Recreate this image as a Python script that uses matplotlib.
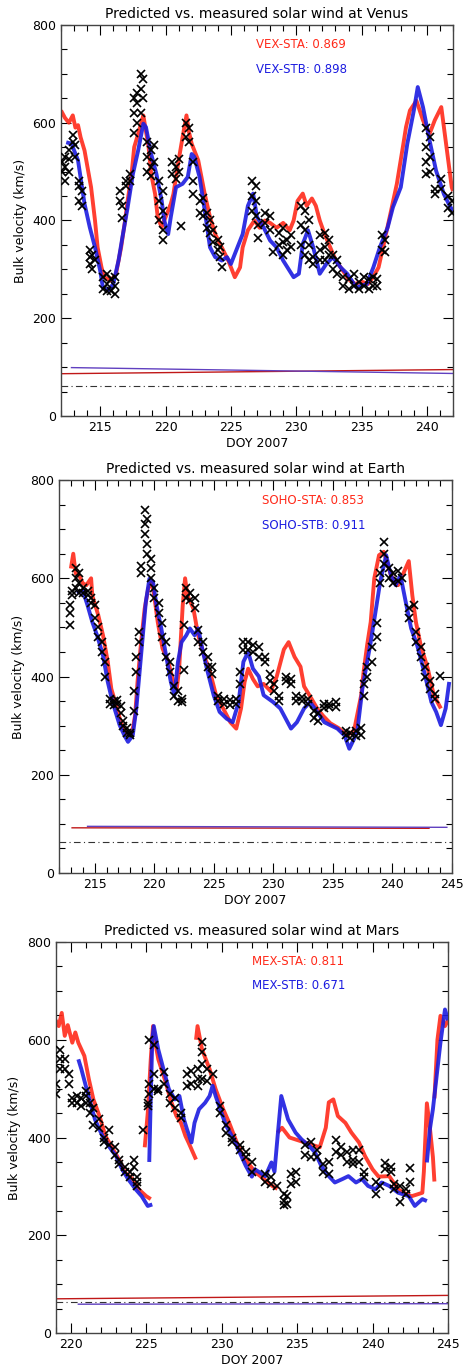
import numpy as np
import matplotlib
matplotlib.use('Agg')
import matplotlib.pyplot as plt
import matplotlib.ticker as tck

nan = np.nan

# ---------- VENUS ----------
venus_sta_doy = [212.0, 212.3, 212.6, 212.9, 213.1, 213.3, 213.5, 213.8, 214.3, 214.6,
                 214.8, 215.1, 215.3, 215.8, 216.2, 216.6, 216.9, 217.1, 217.4, 217.6,
                 217.9, 218.2, 218.3, 218.7, 218.9, 219.2, 219.4, 219.7, 219.9, 220.2,
                 220.4, 220.6, 221.0, 221.3, 221.6, 221.8, 222.0, 222.5, 223.0, 223.4,
                 223.8, 224.3, 224.8, 225.3, 225.7, 225.9, 226.3, 226.8, 227.2, 227.6,
                 228.0, 228.5, 229.0, 229.5, 229.8, 230.1, 230.5, 230.8, 231.2, 231.5,
                 231.8, 232.2, 232.6, 233.0, 233.5, 234.0, 234.5, 235.0, 235.5, 235.9,
                 236.3, 236.7, 237.2, 237.7, 238.2, 238.4, 238.7, 239.2, 239.7, 240.2,
                 240.6, 241.1, 241.5, 241.9, 242.0]
venus_sta_v = [625, 610, 600, 615, 590, 595, 570, 543, 468, 400,
               345, 304, 284, 277, 290, 345, 400, 441, 495, 550,
               577, 605, 615, 550, 495, 454, 407, 386, 400, 420,
               434, 454, 523, 570, 615, 580, 557, 523, 454, 407,
               372, 345, 318, 284, 304, 345, 380, 400, 385, 400,
               395, 385, 395, 380, 400, 440, 455, 430, 445, 430,
               400, 370, 345, 320, 300, 280, 270, 275, 270, 285,
               304, 352, 413, 475, 557, 591, 625, 645, 605, 577,
               605, 632, 550, 468, 460]

venus_stb_doy = [212.4, 212.8, 213.3, 213.8, 214.2, 214.6, 215.0, 215.2, 215.6, 216.0,
                 216.4, 216.7, 217.1, 217.5, 217.9, 218.3, 218.5, 218.9, 219.3, 219.7,
                 219.9, 220.2, 220.4, 220.8, 221.3, 221.7, 222.0, 222.2, 222.6, 223.0,
                 223.4, 223.8, 224.3, 224.7, 225.0, 225.5, 225.9, 226.3, 226.7, 227.0,
                 227.5, 228.0, 228.5, 229.0, 229.8, 230.2, 230.5, 230.9, 231.3, 231.8,
                 232.3, 232.8, 233.4, 233.9, 234.6, 235.4, 235.9, 236.4, 237.0, 237.4,
                 238.0, 238.5, 239.0, 239.3, 239.7, 240.2, 240.7, 241.3, 241.8, 242.0]
venus_stb_v = [560, 557, 523, 434, 386, 345, 297, 263, 257, 270,
               318, 366, 427, 495, 543, 598, 591, 536, 495, 441,
               400, 372, 407, 468, 475, 489, 536, 530, 489, 420,
               345, 325, 318, 325, 311, 345, 372, 430, 455, 407,
               386, 359, 345, 318, 284, 291, 352, 380, 345, 291,
               311, 325, 304, 291, 263, 270, 304, 345, 386, 427,
               468, 557, 625, 673, 632, 564, 502, 454, 427, 420]

venus_obs_doy = [212.1, 212.1, 212.3, 212.3, 212.3, 212.6, 212.6, 212.6, 212.9, 212.9,
                 213.1, 213.1, 213.4, 213.4, 213.4, 213.6, 213.6, 214.2, 214.2, 214.2,
                 214.4, 214.4, 214.6, 215.2, 215.2, 215.5, 215.5, 215.5, 215.8, 215.8,
                 216.1, 216.1, 216.1, 216.5, 216.5, 216.7, 216.7, 217.0, 217.0, 217.3,
                 217.3, 217.6, 217.6, 217.6, 217.8, 217.8, 217.8, 218.1, 218.1, 218.1,
                 218.3, 218.3, 218.6, 218.6, 218.6, 218.9, 218.9, 218.9, 219.1, 219.1,
                 219.5, 219.5, 219.5, 219.8, 219.8, 219.8, 219.8, 220.5, 220.5, 220.8,
                 220.8, 221.0, 221.0, 221.2, 221.6, 221.6, 221.8, 221.8, 222.1, 222.1,
                 222.1, 222.6, 222.6, 222.9, 222.9, 223.2, 223.2, 223.4, 223.4, 223.6,
                 223.6, 224.0, 224.0, 224.2, 224.2, 224.3, 226.6, 226.6, 226.6, 226.9,
                 226.9, 226.9, 227.1, 227.1, 227.6, 227.6, 228.0, 228.0, 228.2, 228.7,
                 228.7, 229.0, 229.0, 229.0, 229.3, 229.3, 229.6, 229.6, 230.4, 230.4,
                 230.4, 230.7, 230.7, 230.7, 231.0, 231.0, 231.0, 231.3, 231.3, 231.8,
                 231.8, 231.8, 232.2, 232.2, 232.2, 232.5, 232.5, 232.8, 232.8, 233.1,
                 233.1, 233.6, 233.6, 234.0, 234.0, 234.4, 234.4, 234.8, 234.8, 235.2,
                 235.2, 235.6, 235.6, 235.9, 235.9, 236.2, 236.2, 236.6, 236.6, 236.8,
                 236.8, 239.9, 239.9, 239.9, 239.9, 240.2, 240.2, 240.2, 240.6, 240.6,
                 241.1, 241.1, 241.6, 241.6, 241.9, 241.9]
venus_obs_v = [500, 520, 480, 510, 530, 500, 525, 545, 560, 575,
               530, 555, 470, 440, 480, 430, 460, 340, 310, 325,
               300, 330, 320, 285, 260, 270, 255, 290, 255, 280,
               265, 250, 285, 440, 460, 405, 430, 480, 470, 495,
               480, 580, 620, 650, 600, 640, 660, 620, 670, 700,
               650, 690, 560, 530, 500, 545, 510, 490, 555, 520,
               480, 440, 400, 460, 420, 380, 360, 520, 495, 510,
               485, 525, 500, 388, 600, 570, 590, 560, 520, 480,
               455, 440, 415, 445, 410, 415, 385, 400, 375, 355,
               380, 360, 340, 325, 345, 304, 480, 450, 420, 470,
               440, 410, 390, 365, 415, 395, 410, 380, 335, 375,
               350, 385, 355, 330, 360, 340, 370, 345, 430, 390,
               350, 420, 380, 330, 400, 350, 320, 310, 325, 370,
               340, 320, 375, 345, 320, 360, 330, 330, 300, 320,
               290, 285, 265, 280, 260, 290, 265, 275, 260, 285,
               265, 280, 260, 285, 265, 280, 265, 370, 340, 360,
               335, 590, 550, 520, 495, 570, 530, 500, 465, 455,
               485, 465, 450, 425, 440, 415]

venus_ref_sta_doy = [212.0, 242.0]
venus_ref_sta_v = [86.5, 95.0]
venus_ref_stb_doy = [212.8, 242.0]
venus_ref_stb_v = [99.0, 87.0]

# ---------- EARTH ----------
earth_sta_doy = [213.0, 213.2, 213.4, 213.7, 214.0, 214.3, 214.7, 214.8, 215.3, 215.7,
                 216.1, 216.4, 216.8, 217.2, 217.6, 218.1, 218.4, 218.6, 218.9, 219.2,
                 219.5, 219.8, 220.0, 220.3, 220.7, 221.2, 221.6, 221.9, 222.1, 222.4,
                 222.6, 222.8, 223.3, 223.7, 224.1, 224.7, 225.2, 225.8, 226.4, 226.9,
                 227.3, 227.6, 227.9, 228.3, 228.7, 229.2, 229.8, 230.3, 230.9, 231.3,
                 231.8, 232.3, 232.6, 233.1, 233.7, 234.2, 234.8, 235.5, 236.2, 236.8,
                 237.4, 237.6, 237.9, 238.2, 238.5, 238.9, 239.3, 239.9, 240.5, 241.0,
                 241.4, 241.7, 242.0, 242.4, 243.0, 243.5, 244.1]
earth_sta_v = [620, 650, 610, 606, 590, 586, 600, 565, 525, 484,
               430, 375, 342, 307, 287, 280, 321, 389, 470, 538,
               579, 593, 565, 511, 457, 430, 389, 375, 416, 545,
               600, 565, 538, 484, 450, 409, 362, 335, 307, 294,
               335, 389, 416, 395, 380, 385, 370, 400, 455, 470,
               440, 420, 380, 360, 335, 320, 305, 295, 280, 290,
               362, 409, 464, 511, 600, 647, 654, 606, 586, 613,
               635, 565, 511, 464, 416, 362, 335]

earth_stb_doy = [213.5, 214.0, 214.4, 214.8, 215.2, 215.7, 216.1, 216.5, 217.1, 217.5,
                 217.8, 218.2, 218.5, 218.8, 219.1, 219.3, 219.6, 219.9, 220.2, 220.6,
                 221.0, 221.4, 221.7, 222.0, 222.3, 222.7, 223.0, 223.4, 223.7, 224.1,
                 224.5, 225.0, 225.5, 226.1, 226.6, 227.1, 227.5, 227.9, 228.3, 228.8,
                 229.2, 230.0, 230.6, 231.5, 232.0, 232.6, 233.1, 233.7, 234.3, 234.8,
                 235.4, 236.0, 236.4, 236.8, 237.1, 237.5, 237.8, 238.2, 238.6, 239.0,
                 239.5, 239.9, 240.3, 240.7, 241.2, 241.6, 242.1, 242.7, 243.3, 243.7,
                 244.1, 244.5, 244.8]
earth_stb_v = [570, 575, 545, 511, 484, 443, 389, 348, 301, 280,
               267, 280, 335, 416, 498, 552, 599, 593, 545, 498,
               443, 389, 362, 430, 470, 484, 498, 484, 498, 450,
               409, 362, 328, 314, 307, 348, 430, 450, 416, 400,
               362, 348, 335, 294, 307, 335, 348, 328, 307, 301,
               294, 280, 253, 273, 294, 375, 416, 470, 531, 593,
               647, 606, 586, 606, 545, 498, 464, 409, 348, 328,
               301, 335, 389]

earth_obs_doy = [212.9, 212.9, 212.9, 213.1, 213.1, 213.4, 213.4, 213.4, 213.7, 213.7,
                 213.7, 214.0, 214.0, 214.4, 214.4, 214.7, 214.7, 215.0, 215.0, 215.3,
                 215.3, 215.6, 215.6, 215.9, 215.9, 216.3, 216.3, 216.6, 216.6, 216.9,
                 216.9, 217.2, 217.2, 217.4, 217.4, 217.7, 217.7, 218.0, 218.0, 218.3,
                 218.3, 218.5, 218.5, 218.7, 218.7, 218.9, 218.9, 219.2, 219.2, 219.2,
                 219.4, 219.4, 219.4, 219.7, 219.7, 219.7, 220.0, 220.0, 220.4, 220.4,
                 220.7, 220.7, 221.0, 221.0, 221.3, 221.3, 221.7, 221.7, 222.0, 222.0,
                 222.3, 222.3, 222.5, 222.5, 222.7, 222.7, 223.0, 223.0, 223.4, 223.4,
                 223.7, 223.7, 224.1, 224.1, 224.5, 224.5, 224.9, 224.9, 225.4, 225.4,
                 225.9, 225.9, 226.4, 226.4, 226.9, 226.9, 227.2, 227.2, 227.5, 227.5,
                 227.9, 227.9, 228.3, 228.3, 228.8, 228.8, 229.3, 229.3, 229.7, 229.7,
                 230.1, 230.1, 230.5, 230.5, 231.1, 231.1, 231.5, 231.5, 231.9, 231.9,
                 232.4, 232.4, 232.9, 232.9, 233.4, 233.4, 233.8, 233.8, 234.3, 234.3,
                 234.7, 234.7, 235.3, 235.3, 236.1, 236.1, 236.5, 236.5, 237.0, 237.0,
                 237.4, 237.4, 237.6, 237.6, 237.9, 237.9, 238.3, 238.3, 238.7, 238.7,
                 239.0, 239.0, 239.3, 239.3, 239.3, 239.7, 239.7, 240.1, 240.1, 240.5,
                 240.5, 240.8, 241.4, 241.4, 241.8, 242.0, 242.0, 242.4, 242.4, 242.8,
                 242.8, 243.2, 243.2, 243.6, 243.6, 244.0]
earth_obs_v = [545, 530, 505, 575, 565, 600, 620, 580, 610, 590,
               570, 580, 570, 575, 565, 560, 550, 545, 520, 500,
               480, 470, 450, 430, 400, 355, 345, 350, 342, 352,
               345, 340, 325, 310, 300, 295, 285, 285, 280, 370,
               330, 410, 440, 470, 490, 610, 625, 740, 710, 690,
               720, 670, 650, 640, 620, 600, 580, 560, 550, 530,
               510, 480, 470, 440, 430, 410, 380, 360, 370, 350,
               355, 348, 505, 413, 580, 560, 570, 555, 560, 540,
               495, 470, 470, 450, 440, 420, 420, 405, 360, 350,
               355, 345, 352, 342, 355, 345, 410, 385, 470, 455,
               470, 455, 465, 450, 460, 440, 440, 430, 405, 390,
               385, 370, 360, 350, 400, 390, 395, 385, 360, 350,
               358, 350, 355, 345, 330, 315, 325, 310, 345, 335,
               345, 338, 348, 338, 290, 280, 285, 275, 290, 278,
               295, 280, 385, 360, 420, 400, 460, 430, 510, 480,
               590, 610, 630, 650, 674, 620, 600, 610, 590, 615,
               595, 600, 540, 520, 545, 490, 470, 460, 440, 420,
               400, 390, 375, 365, 355, 402]

earth_ref_sta_doy = [213.1, 243.1]
earth_ref_sta_v = [92.0, 91.0]
earth_ref_stb_doy = [214.4, 244.6]
earth_ref_stb_v = [95.0, 93.0]

# ---------- MARS (nan = gap between model streams) ----------
mars_sta_doy = [219.0, 219.2, 219.4, 219.6, 219.8, 220.1, 220.3, 220.5, 220.9, 221.2,
                221.5, 221.9, 222.3, 222.8, 223.2, 223.6, 224.1, 224.5, 225.0, 225.3,
                225.3, 224.9, 225.1, 225.3, 225.45, 225.6, 225.8, 226.3, 226.6, 227.0,
                227.3, 227.6, 227.8, 228.1, 228.3, 228.3, 228.3, 228.4, 228.7, 229.2,
                229.6, 230.1, 230.5, 231.0, 231.4, 231.9, 232.2, 232.6, 233.0, 233.4,
                233.7, 233.7, 233.7, 234.0, 234.5, 235.0, 235.5, 236.0, 236.5, 236.9,
                237.1, 237.4, 237.7, 238.2, 238.6, 239.1, 239.5, 240.0, 240.4, 241.1,
                241.7, 242.2, 242.6, 243.3, 243.4, 243.6, 243.8, 244.0, 244.1, 244.1,
                244.1, 244.3, 244.5, 244.8, 245.0]
mars_sta_v = [640, 628, 655, 608, 630, 594, 615, 594, 567, 519,
              478, 444, 403, 376, 355, 328, 315, 294, 280, 274,
              nan, 380, 450, 560, 628, 594, 560, 512, 478, 444,
              430, 403, 390, 369, 355, nan, 600, 628, 580, 540,
              499, 458, 430, 390, 362, 342, 330, 320, 310, 300,
              295, nan, 410, 420, 400, 395, 390, 385, 380, 420,
              472, 478, 444, 430, 410, 390, 362, 335, 320, 321,
              294, 285, 280, 287, 330, 470, 420, 360, 310, nan,
              480, 600, 649, 628, 640]

mars_stb_doy = [220.5, 220.7, 221.0, 221.3, 221.6, 222.1, 222.5, 223.0, 223.4, 223.8,
                224.3, 224.7, 225.1, 225.4, 225.4, 225.2, 225.3, 225.4, 225.5, 225.8,
                226.2, 226.5, 226.9, 227.2, 227.5, 227.7, 228.0, 228.2, 228.5, 228.9,
                229.2, 229.4, 229.6, 229.9, 230.3, 230.8, 231.2, 231.6, 232.0, 232.2,
                232.9, 233.3, 233.5, 233.7, 233.95, 234.4, 234.9, 235.3, 235.8, 236.2,
                236.6, 237.1, 237.5, 238.0, 238.4, 238.9, 239.3, 239.7, 240.2, 240.6,
                241.1, 241.7, 242.4, 242.8, 243.3, 243.6, 243.6, 243.6, 243.8, 244.0,
                244.3, 244.5, 244.8, 245.0]
mars_stb_v = [560, 540, 505, 471, 437, 403, 383, 362, 335, 315,
              294, 280, 260, 263, nan, 350, 480, 600, 628, 580,
              533, 499, 478, 485, 437, 417, 390, 430, 458, 471,
              485, 506, 485, 458, 424, 396, 369, 342, 320, 335,
              321, 349, 330, 400, 485, 437, 410, 396, 383, 369,
              342, 321, 308, 315, 321, 308, 315, 301, 294, 308,
              301, 287, 280, 260, 274, 270, nan, 349, 417, 458,
              540, 594, 662, 640]

mars_obs_doy = [219.0, 219.0, 219.3, 219.3, 219.3, 219.6, 219.6, 219.9, 219.9, 220.1,
                220.1, 220.4, 220.4, 220.7, 220.7, 221.0, 221.0, 221.0, 221.3, 221.3,
                221.5, 221.5, 221.9, 221.9, 222.2, 222.2, 222.5, 222.5, 222.9, 222.9,
                223.2, 223.2, 223.6, 223.6, 223.9, 223.9, 224.2, 224.2, 224.4, 224.4,
                224.4, 224.8, 225.1, 225.1, 225.2, 225.2, 225.2, 225.5, 225.5, 225.5,
                225.8, 225.8, 226.2, 226.2, 226.6, 226.6, 226.9, 226.9, 227.3, 227.3,
                227.7, 227.7, 228.0, 228.0, 228.4, 228.4, 228.4, 228.7, 228.7, 228.7,
                228.7, 229.0, 229.0, 229.4, 229.9, 229.9, 230.3, 230.3, 230.7, 230.7,
                231.2, 231.2, 231.6, 231.6, 232.0, 232.0, 232.9, 232.9, 233.3, 233.3,
                233.7, 234.1, 234.1, 234.1, 234.3, 234.3, 234.6, 234.6, 234.9, 234.9,
                235.5, 235.5, 235.9, 235.9, 236.3, 236.3, 236.7, 236.7, 237.1, 237.1,
                237.6, 237.6, 237.9, 237.9, 238.3, 238.3, 238.7, 238.7, 238.7, 239.1,
                239.1, 239.4, 239.4, 240.2, 240.2, 240.5, 240.8, 240.8, 241.2, 241.2,
                241.4, 241.4, 241.8, 241.8, 242.2, 242.2, 242.5, 242.5]
mars_obs_v = [510, 490, 580, 560, 540, 560, 540, 530, 510, 480,
              470, 485, 470, 480, 465, 495, 485, 470, 470, 450,
              425, 460, 437, 420, 400, 390, 415, 385, 380, 365,
              355, 345, 340, 330, 330, 320, 355, 340, 320, 310,
              300, 415, 470, 465, 510, 490, 600, 530, 500, 590,
              500, 495, 535, 510, 490, 470, 480, 460, 450, 440,
              505, 530, 536, 510, 540, 520, 505, 595, 575, 550,
              520, 540, 515, 530, 465, 450, 425, 410, 400, 390,
              385, 375, 370, 360, 350, 330, 325, 310, 320, 305,
              300, 285, 270, 262, 280, 265, 325, 305, 330, 310,
              385, 365, 390, 360, 375, 360, 345, 330, 350, 325,
              395, 370, 380, 365, 370, 350, 375, 355, 345, 375,
              350, 330, 320, 310, 285, 300, 348, 335, 340, 330,
              305, 295, 300, 268, 295, 285, 338, 310]

mars_ref_sta_doy = [219.0, 245.0]
mars_ref_sta_v = [70.0, 77.0]
mars_ref_stb_doy = [220.5, 245.0]
mars_ref_stb_v = [59.0, 60.0]

dashdot_level = [62, 63.5, 63]

panels = [
    dict(name='Venus', tag='VEX', cc=('0.869', '0.898'), xlim=(212, 242),
         sta=(venus_sta_doy, venus_sta_v), stb=(venus_stb_doy, venus_stb_v),
         obs=(venus_obs_doy, venus_obs_v),
         rsta=(venus_ref_sta_doy, venus_ref_sta_v), rstb=(venus_ref_stb_doy, venus_ref_stb_v),
         pos=[0.1318, 0.6968, 0.8467, 0.2850], txt=(0.497, 0.951, 0.887)),
    dict(name='Earth', tag='SOHO', cc=('0.853', '0.911'), xlim=(212, 245),
         sta=(earth_sta_doy, earth_sta_v), stb=(earth_stb_doy, earth_stb_v),
         obs=(earth_obs_doy, earth_obs_v),
         rsta=(earth_ref_sta_doy, earth_ref_sta_v), rstb=(earth_ref_stb_doy, earth_ref_stb_v),
         pos=[0.1274, 0.3637, 0.8480, 0.2864], txt=(0.516, 0.947, 0.884)),
    dict(name='Mars', tag='MEX', cc=('0.811', '0.671'), xlim=(219, 245),
         sta=(mars_sta_doy, mars_sta_v), stb=(mars_stb_doy, mars_stb_v),
         obs=(mars_obs_doy, mars_obs_v),
         rsta=(mars_ref_sta_doy, mars_ref_sta_v), rstb=(mars_ref_stb_doy, mars_ref_stb_v),
         pos=[0.1203, 0.0284, 0.8473, 0.2850], txt=(0.500, 0.950, 0.888)),
]

RED = '#ff2a1a'
BLUE = '#1c1ce0'

fig = plt.figure(figsize=(4.63, 13.72), dpi=100)

for i, p in enumerate(panels):
    ax = fig.add_axes(p['pos'])
    ax.plot(*p['sta'], color=RED, lw=2.8, alpha=0.9, solid_capstyle='butt', zorder=2)
    ax.plot(*p['stb'], color=BLUE, lw=2.8, alpha=0.9, solid_capstyle='butt', zorder=3)
    ax.plot(*p['obs'], linestyle='none', marker='x', color='black', ms=5.2, mew=1.2, zorder=4)

    ax.plot(*p['rsta'], color='#c01818', lw=1.0, zorder=2)
    ax.plot(*p['rstb'], color='#6040c0', lw=1.0, zorder=2)
    ax.axhline(dashdot_level[i], color='#333333', lw=0.8, linestyle=(0, (6, 3, 1, 3)))

    ax.set_xlim(*p['xlim'])
    ax.set_ylim(0, 800)
    ax.xaxis.set_major_locator(tck.MultipleLocator(5))
    ax.xaxis.set_minor_locator(tck.MultipleLocator(1))
    ax.yaxis.set_major_locator(tck.MultipleLocator(200))
    ax.yaxis.set_minor_locator(tck.MultipleLocator(50))
    ax.tick_params(which='both', direction='in', top=True, right=True, labelsize=9, width=0.8)
    ax.tick_params(which='major', length=7)
    ax.tick_params(which='minor', length=4)
    for s in ax.spines.values():
        s.set_linewidth(1.0)
        s.set_color('#444444')

    ax.set_title('Predicted vs. measured solar wind at ' + p['name'], fontsize=10, pad=5)
    ax.set_xlabel('DOY 2007', fontsize=9, labelpad=2)
    ax.set_ylabel('Bulk velocity (km/s)', fontsize=9, labelpad=4)

    tx, ty1, ty2 = p['txt']
    ax.text(tx, ty1, p['tag'] + '-STA: ' + p['cc'][0], color=RED, fontsize=8.5,
            transform=ax.transAxes, va='center')
    ax.text(tx, ty2, p['tag'] + '-STB: ' + p['cc'][1], color=BLUE, fontsize=8.5,
            transform=ax.transAxes, va='center')

fig.savefig('out.png', dpi=100)
